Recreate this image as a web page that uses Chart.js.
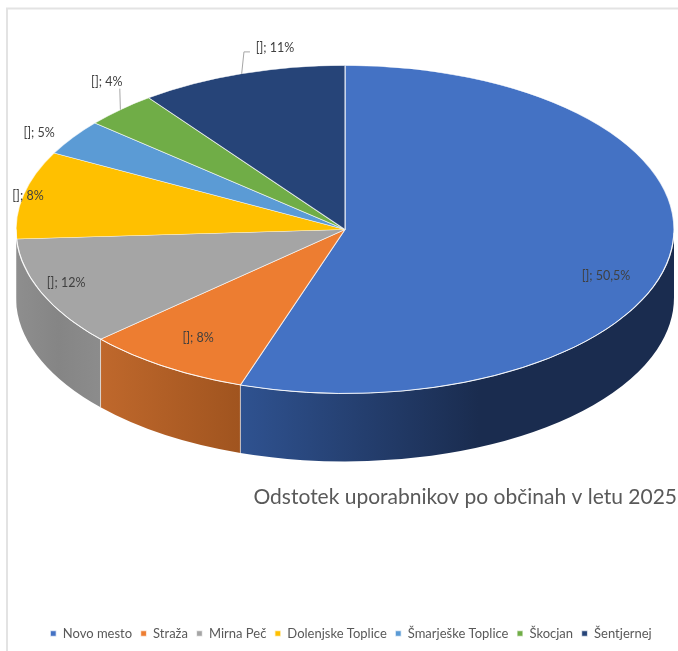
<!DOCTYPE html>
<html>
<head>
<meta charset="utf-8">
<style>html,body{margin:0;padding:0;background:#fff}canvas{display:block}</style>
<script src="https://cdn.jsdelivr.net/npm/chart.js@4"></script>
</head>
<body>
<canvas id="c" width="678" height="651"></canvas>
<script>
// Data
const categories = ['Novo mesto','Straža','Mirna Peč','Dolenjske Toplice','Šmarješke Toplice','Škocjan','Šentjernej'];
// Slice shares as drawn in the picture (they differ from the printed label texts)
const sliceShares = [55.15, 8.18, 10.75, 8.64, 3.53, 3.58, 10.17];
const labelTexts = ['[]; 50,5%','[]; 8%','[]; 12%','[]; 8%','[]; 5%','[]; 4%','[]; 11%'];
const titleText = 'Odstotek uporabnikov po občinah v letu 2025';
// Style
const faceColors = ['#4472C4','#ED7D31','#A5A5A5','#FFC000','#5B9BD5','#70AD47','#264478'];
const wallStops = [
  [[0,'#2f5290'],[0.55,'#1a2c4f'],[1,'#1a2c4f']],
  [[0,'#bf682c'],[1,'#a0541f']],
  [[0,'#8e8e8e'],[0.5,'#858585'],[1,'#8c8c8c']],
  [[0,'#8e8e8e'],[1,'#8e8e8e']],
  [[0,'#3a6ea0'],[1,'#3a6ea0']],
  [[0,'#43682b'],[1,'#43682b']],
  [[0,'#172a49'],[1,'#172a49']]
];
const labelOffsets = [[-63.7,20],[33.6,-28.6],[24.7,-9.6],[4.5,1.3],[-33.6,-4],[-13.6,-28.1],[33.3,-25.9]];
const leaderLines = {5:[[-0.6,-21]],6:[[2.3,-21.9],[8.3,-21.9]]};
const view = {cx:345, cy:229.5, rx:329, ry:164, depth:68};
const tilt = view.ry/view.rx;
const FONT = 'Lato, "Open Sans", sans-serif';

const project = (a,r=1)=>({x:view.cx+Math.cos(a)*view.rx*r, y:view.cy+Math.sin(a)*view.ry*r});

const pie3d = {
  id:'pie3d',
  beforeDraw(chart){
    const {ctx}=chart;
    ctx.save();
    ctx.fillStyle='#fff';ctx.fillRect(0,0,chart.width,chart.height);
    ctx.strokeStyle='#e3e3e3';ctx.lineWidth=2;
    ctx.beginPath();ctx.moveTo(7,chart.height);ctx.lineTo(7,8.5);ctx.lineTo(chart.width,8.5);ctx.stroke();
    ctx.restore();
  },
  beforeDatasetDraw(chart){
    const {ctx}=chart, arcs=chart.getDatasetMeta(0).data;
    // side walls
    arcs.forEach((arc,i)=>{
      const a0=Math.max(arc.startAngle,0), a1=Math.min(arc.endAngle,Math.PI);
      if(a1<=a0) return;
      const xs=[project(a0).x,project(a1).x];
      const grad=ctx.createLinearGradient(Math.min(...xs),0,Math.max(...xs),0);
      wallStops[i].forEach(s=>grad.addColorStop(s[0],s[1]));
      ctx.save();
      ctx.beginPath();
      ctx.ellipse(view.cx,view.cy,view.rx,view.ry,0,a0,a1,false);
      ctx.ellipse(view.cx,view.cy+view.depth,view.rx,view.ry,0,a1,a0,true);
      ctx.closePath();
      ctx.fillStyle=grad;ctx.fill();
      ctx.restore();
    });
    arcs.forEach(arc=>{
      const a=arc.endAngle;
      if(a>0&&a<Math.PI*0.9){
        const p=project(a);
        ctx.save();ctx.strokeStyle='rgba(255,255,255,.55)';ctx.lineWidth=1;
        ctx.beginPath();ctx.moveTo(p.x,p.y);ctx.lineTo(p.x,p.y+view.depth);ctx.stroke();ctx.restore();
      }
    });
    const a=arcs[0];
    ctx.save();
    ctx.translate(view.cx,view.cy);ctx.scale(1,tilt);ctx.translate(-a.x,-a.y);
  },
  afterDatasetDraw(chart){
    const {ctx}=chart;
    ctx.restore();
    ctx.save();
    ctx.strokeStyle='rgba(255,255,255,.8)';ctx.lineWidth=1;
    ctx.beginPath();ctx.ellipse(view.cx,view.cy,view.rx,view.ry,0,0.02,Math.PI,false);ctx.stroke();
    ctx.restore();
  },
  afterDatasetsDraw(chart){
    const {ctx}=chart, arcs=chart.getDatasetMeta(0).data;
    ctx.save();
    ctx.font='12.5px '+FONT;ctx.fillStyle='#404040';ctx.textAlign='center';ctx.textBaseline='middle';
    arcs.forEach((arc,i)=>{
      const p=project((arc.startAngle+arc.endAngle)/2);
      ctx.fillText(labelTexts[i],p.x+labelOffsets[i][0],p.y+labelOffsets[i][1]);
      if(leaderLines[i]){
        ctx.save();ctx.strokeStyle='#a6a6a6';ctx.lineWidth=1;
        ctx.beginPath();ctx.moveTo(p.x,p.y);
        leaderLines[i].forEach(o=>ctx.lineTo(p.x+o[0],p.y+o[1]));
        ctx.stroke();ctx.restore();
      }
    });
    ctx.restore();
  }
};

new Chart(document.getElementById('c'),{
  type:'pie',
  plugins:[pie3d],
  data:{labels:categories,datasets:[{
    data:sliceShares,
    backgroundColor:faceColors,
    borderColor:'rgba(255,255,255,.7)',
    borderWidth:1.3,
    radius:view.rx,
    clip:false
  }]},
  options:{
    responsive:false,
    animation:false,
    layout:{padding:{left:25,right:1,top:0,bottom:1}},
    plugins:{
      tooltip:{enabled:false},
      title:{display:true,text:titleText,position:'bottom',align:'end',weight:500,
        color:'#595959',font:{family:FONT,size:21,weight:'normal'},padding:{top:0,bottom:109}},
      legend:{position:'bottom',weight:1000,
        labels:{usePointStyle:true,pointStyle:'rect',boxWidth:6,boxHeight:6,padding:8.5,color:'#595959',
          font:{family:FONT,size:13}}}
    }
  }
});
</script>
</body>
</html>
